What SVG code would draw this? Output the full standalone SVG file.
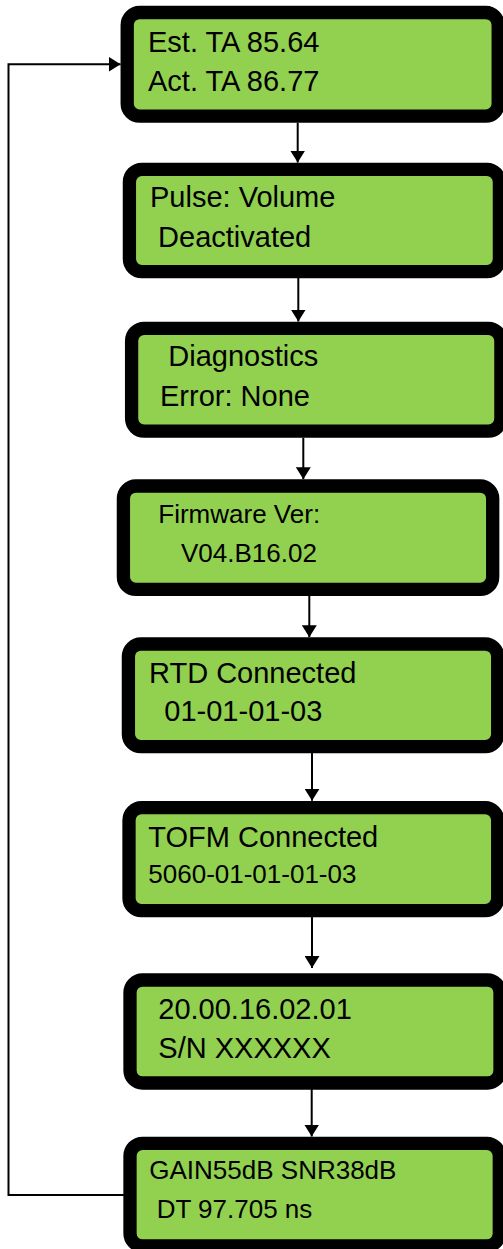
<svg xmlns="http://www.w3.org/2000/svg" width="503" height="1249" viewBox="0 0 503 1249">
<style>
.box{fill:#92D050;stroke:#000;stroke-width:13.3}
.t{font-family:"Liberation Sans",Arial,sans-serif;font-size:29px;fill:#000}
.s{font-size:26px}
.c{fill:none;stroke:#000;stroke-width:2}
</style>
<defs>
<marker id="ah" viewBox="0 0 12 15" refX="12" refY="7.5" markerWidth="12" markerHeight="15" markerUnits="userSpaceOnUse" orient="auto">
<path d="M0,0 L12,7.5 L0,15 z" fill="#000"/>
</marker>
</defs>
<rect width="503" height="1249" fill="#fff"/>
<g id="connectors">
<path class="c" d="M297.7,122.7 V162.5" marker-end="url(#ah)"/>
<path class="c" d="M298.3,278 V321.5" marker-end="url(#ah)"/>
<path class="c" d="M303.3,437.7 V479.2" marker-end="url(#ah)"/>
<path class="c" d="M309.3,596 V637.2" marker-end="url(#ah)"/>
<path class="c" d="M312,753 V800.8" marker-end="url(#ah)"/>
<path class="c" d="M312,917 V968" marker-end="url(#ah)"/>
<path class="c" d="M311.7,1089 V1136.5" marker-end="url(#ah)"/>
<path class="c" d="M124,1195 H8.5 V64.3 H120.6" marker-end="url(#ah)"/>
</g>
<g id="n1">
<rect class="box" x="127.2" y="12.5" width="371" height="103.7" rx="12.5"/>
<text class="t" x="148" y="52.3">Est. TA 85.64</text>
<text class="t" x="148" y="90.7">Act. TA 86.77</text>
</g>
<g id="n2">
<rect class="box" x="129.4" y="169.4" width="370" height="102.2" rx="12.5"/>
<text class="t" x="150" y="207.3">Pulse: Volume</text>
<text class="t" x="150" y="246.7" xml:space="preserve"> Deactivated</text>
</g>
<g id="n3">
<rect class="box" x="131.6" y="328.3" width="369.3" height="102.8" rx="12.5"/>
<text class="t" x="168.3" y="366">Diagnostics</text>
<text class="t" x="160" y="405.7">Error: None</text>
</g>
<g id="n4">
<rect class="box" x="123.4" y="486" width="369.3" height="103.4" rx="12.5"/>
<text class="t s" x="158.3" y="523.3">Firmware Ver:</text>
<text class="t s" x="181" y="561.7">V04.B16.02</text>
</g>
<g id="n5">
<rect class="box" x="128.4" y="644" width="369.3" height="102.7" rx="12.5"/>
<text class="t" x="149" y="682.7">RTD Connected</text>
<text class="t" x="164.3" y="721">01-01-01-03</text>
</g>
<g id="n6">
<rect class="box" x="129" y="807.7" width="368.7" height="103" rx="12.5"/>
<text class="t" x="148.3" y="846.7">TOFM Connected</text>
<text class="t s" x="148.3" y="882.7">5060-01-01-01-03</text>
</g>
<g id="n7">
<rect class="box" x="130" y="980" width="370" height="103" rx="12.5"/>
<text class="t" x="158.3" y="1019.3">20.00.16.02.01</text>
<text class="t" x="158.3" y="1058.3">S/N XXXXXX</text>
</g>
<g id="n8">
<rect class="box" x="130" y="1143.3" width="369.3" height="102.7" rx="12.5"/>
<text class="t s" x="149.3" y="1179.3">GAIN55dB SNR38dB</text>
<text class="t s" x="156.7" y="1217.7">DT 97.705 ns</text>
</g>
</svg>
